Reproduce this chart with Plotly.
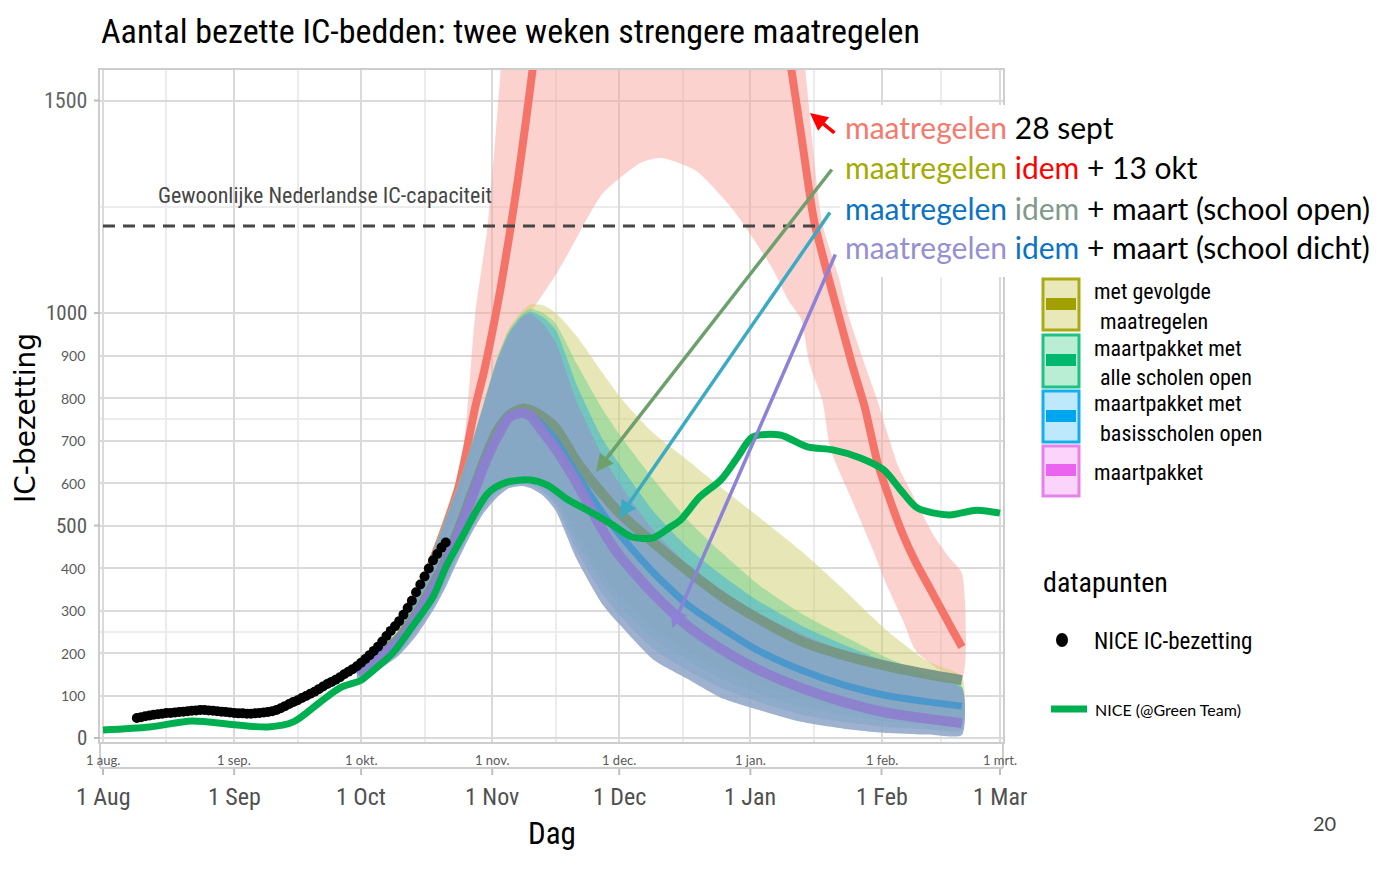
import pandas as pd
import plotly.graph_objects as go

BASE = pd.Timestamp("2020-08-01")

# ---------------- data ----------------
# NICE IC-bezetting, daily points (day 8 .. day 81 after 1 Aug 2020)
nice_start = 8
nice_vals = [47, 49, 51, 53, 55, 56, 57, 59, 59, 60,
             61, 62, 63, 64, 65, 66, 66, 65, 64, 63,
             62, 61, 60, 59, 58, 58, 57, 57, 58, 59,
             60, 61, 63, 66, 70, 75, 80, 85, 89, 94,
             99, 104, 109, 115, 121, 127, 132, 137, 143, 150,
             156, 162, 169, 177, 186, 195, 205, 215, 227, 240,
             252, 263, 275, 290, 306, 323, 343, 361, 380, 399,
             418, 433, 448, 460]
nice_days = list(range(nice_start, nice_start + len(nice_vals)))

# NICE (@Green Team) smoothed line
green_days = [0, 11, 21, 31, 39, 45, 51, 56, 61, 64, 68.5, 73, 78, 81, 84.5, 91,
              95.5, 101, 105, 110, 114.5, 120.5, 125, 130, 134, 136.5, 141, 146,
              150, 153.5, 160, 166.5, 172.5, 179, 184.5, 188.5, 192.5, 200, 206.5, 212]
green_vals = [19, 26, 40, 31, 26, 38, 82, 118, 136, 160, 200, 261, 332, 402, 466, 576,
              602, 607, 595, 560, 536, 501, 473, 471, 496, 513, 567, 607,
              661, 708, 713, 685, 678, 659, 631, 584, 541, 525, 536, 529]

# scenario: maatregelen 28 sept (red)
red_days = [70, 74, 78, 81, 84, 86, 88, 90, 92, 94, 96, 98, 100, 102, 105, 110, 120, 130,
            140, 150, 157, 162, 165, 168, 171, 174, 177, 180, 183, 186, 189, 192, 195,
            198, 201, 203]
red_med = [250, 320, 420, 500, 590, 680, 780, 860, 955, 1060, 1180, 1310, 1455, 1610,
           1880, 2350, 3000, 3200, 3000, 2500, 2000, 1620, 1420, 1220, 1100, 990, 880,
           780, 650, 560, 480, 415, 360, 305, 250, 214]
red_hi_days = [70, 75, 80, 84, 86, 88, 91, 94, 98, 105, 120, 140, 155, 162, 166, 170,
               174, 176, 180, 183, 188, 192, 196, 200, 203]
red_hi = [290, 380, 480, 600, 760, 1000, 1212, 1572, 2100, 3000, 4500, 4500, 3000, 2000,
          1572, 1212, 1080, 1000, 880, 795, 638, 560, 482, 425, 388]
red_lo_days = [70, 75, 80, 85, 90, 95, 100, 103, 107, 110, 118, 127, 132, 140, 149, 158,
               162, 165, 167, 170, 172, 177, 182, 185, 189, 192, 197, 203]
red_lo = [230, 300, 400, 520, 660, 820, 985, 1030, 1090, 1141, 1280, 1353, 1365, 1336,
          1242, 1108, 1030, 985, 880, 795, 678, 560, 442, 365, 278, 207, 165, 140]

# other scenarios (bands)
band_days = [60, 65, 70, 74, 78, 81, 84, 87, 90, 93, 96, 99, 101, 104, 107, 112, 118, 122,
             130, 138, 146, 155, 165, 175, 185, 195, 203]
yel_hi = [172, 205, 258, 335, 440, 520, 600, 690, 790, 890, 965, 1005, 1020, 1018, 1000, 945,
          860, 805, 718, 655, 590, 520, 440, 350, 255, 180, 145]
yel_lo = [150, 170, 208, 262, 325, 380, 445, 505, 556, 592, 612, 618, 614, 600, 572, 480,
          385, 338, 258, 205, 160, 125, 92, 70, 55, 46, 42]
grn_hi = [170, 203, 256, 333, 438, 518, 598, 688, 788, 888, 960, 998, 1010, 1000, 975, 880,
          775, 715, 610, 515, 438, 360, 293, 240, 190, 150, 122]
grn_lo = [150, 170, 205, 258, 320, 375, 440, 500, 550, 585, 604, 608, 604, 590, 560, 460,
          365, 315, 235, 185, 140, 105, 75, 55, 40, 33, 30]
blu_hi = [168, 201, 254, 331, 436, 516, 596, 686, 786, 885, 955, 993, 1003, 990, 960, 830,
          705, 645, 535, 450, 385, 322, 265, 220, 180, 146, 119]
blu_lo = [145, 165, 200, 250, 310, 365, 430, 490, 540, 575, 596, 600, 596, 580, 548, 440,
          340, 290, 210, 160, 118, 85, 55, 38, 26, 20, 18]
mag_hi = [166, 199, 252, 329, 434, 514, 594, 684, 784, 882, 950, 988, 998, 975, 930, 790,
          665, 600, 490, 410, 350, 292, 245, 205, 170, 140, 117]
mag_lo = [140, 160, 195, 240, 300, 355, 420, 480, 530, 565, 588, 593, 588, 570, 535, 420,
          315, 268, 185, 140, 95, 66, 38, 22, 12, 8, 7]
med_gevolgd = [160, 195, 235, 290, 360, 420, 490, 570, 650, 720, 760, 775, 772, 755, 730,
               650, 575, 530, 460, 395, 335, 280, 228, 195, 170, 150, 136]
med_basis = [158, 192, 232, 286, 355, 415, 485, 565, 645, 712, 752, 765, 760, 735, 700,
             620, 530, 480, 390, 315, 260, 205, 160, 125, 100, 85, 75]
med_maart = [155, 190, 228, 282, 350, 410, 480, 560, 640, 705, 755, 765, 758, 720, 680,
             600, 490, 430, 340, 265, 210, 160, 118, 85, 60, 45, 35]

capacity = 1205
capacity_days = [0, 169]

month_dates = ["2020-08-01", "2020-09-01", "2020-10-01", "2020-11-01", "2020-12-01",
               "2021-01-01", "2021-02-01", "2021-03-01"]
mid_dates = ["2020-08-16", "2020-09-16", "2020-10-16", "2020-11-16", "2020-12-16",
             "2021-01-16", "2021-02-15"]
month_small = ["1 aug.", "1 sep.", "1 okt.", "1 nov.", "1 dec.", "1 jan.", "1 feb.", "1 mrt."]
month_big = ["1 Aug", "1 Sep", "1 Oct", "1 Nov", "1 Dec", "1 Jan", "1 Feb", "1 Mar"]
y_small = [100, 200, 300, 400, 600, 700, 800, 900]
y_big = [0, 500, 1000]
y_top = [1500]
y_grid = [0, 100, 200, 300, 400, 500, 600, 700, 800, 900, 1000, 1500]
y_minor = [250, 750, 1250]


def day(d):
    return BASE + pd.to_timedelta(d, unit="D")


# ---------------- layout helpers (pixel -> paper) ----------------
L, R, T, B = 100, 1003, 70, 742


def px(x):
    return (x - L) / (R - L)


def py(y):
    return (B - y) / (B - T)


NARROW = "Noto Sans Condensed, Roboto Condensed, Liberation Sans Narrow, Liberation Sans"
SANS = "DejaVu Sans, Liberation Sans, sans-serif"
CAL = "Lato, Carlito, Calibri, sans-serif"

fig = go.Figure()


def band(d_hi, hi, d_lo, lo, color):
    xs = list(day(d_hi)) + list(day(d_lo))[::-1]
    ys = list(hi) + list(lo)[::-1]
    fig.add_trace(go.Scatter(x=xs, y=ys, mode="lines", fill="toself", fillcolor=color,
                             line=dict(width=0, shape="spline", smoothing=0.6),
                             hoverinfo="skip", showlegend=False))


# red scenario ribbon + line
band(red_hi_days, red_hi, red_lo_days, red_lo, "rgba(248,160,155,0.48)")
fig.add_trace(go.Scatter(x=day(red_days), y=red_med, mode="lines",
                         line=dict(color="rgb(244,116,106)", width=8, shape="spline", smoothing=0.6),
                         showlegend=False))

# scenario bands
band(band_days, yel_hi, band_days, yel_lo, "rgba(205,205,110,0.5)")
band(band_days, grn_hi, band_days, grn_lo, "rgba(110,210,140,0.5)")
band(band_days, blu_hi, band_days, blu_lo, "rgba(60,175,220,0.5)")
band(band_days, mag_hi, band_days, mag_lo, "rgba(140,162,198,0.84)")

for vals, col, w in [(med_gevolgd, "rgba(118,150,132,0.95)", 10),
                     (med_basis, "rgba(70,150,205,0.9)", 7),
                     (med_maart, "rgba(140,128,205,0.95)", 10)]:
    fig.add_trace(go.Scatter(x=day(band_days), y=vals, mode="lines",
                             line=dict(color=col, width=w, shape="spline", smoothing=0.6),
                             showlegend=False))

# capacity
fig.add_trace(go.Scatter(x=day(capacity_days), y=[capacity, capacity], mode="lines",
                         line=dict(color="rgb(70,70,70)", width=3, dash="12px,8px"),
                         showlegend=False))

# data points
fig.add_trace(go.Scatter(x=day(nice_days), y=nice_vals, mode="markers",
                         marker=dict(color="black", size=10), showlegend=False))
fig.add_trace(go.Scatter(x=day(green_days), y=green_vals, mode="lines",
                         line=dict(color="rgb(0,176,80)", width=7, shape="spline", smoothing=0.8),
                         showlegend=False))

# ---------------- axes ----------------
fig.update_xaxes(range=[day(-0.709), day(212.71)], showticklabels=False,
                 tickvals=month_dates, showgrid=True, gridcolor="rgb(218,218,218)", gridwidth=2,
                 minor=dict(tickvals=mid_dates, showgrid=True, gridcolor="rgb(236,236,236)",
                            gridwidth=1.5),
                 showline=True, mirror=True, linecolor="rgb(205,205,205)", linewidth=2,
                 zeroline=False, ticks="")
fig.update_yaxes(range=[-9.41, 1571.8], showticklabels=False, tickvals=y_grid,
                 showgrid=True, gridcolor="rgb(218,218,218)", gridwidth=2,
                 minor=dict(tickvals=y_minor, showgrid=True, gridcolor="rgb(236,236,236)",
                            gridwidth=1.5),
                 showline=True, mirror=True, linecolor="rgb(205,205,205)", linewidth=2,
                 zeroline=False, ticks="")

ann = []
shapes = []


def A(text, x, y, size, color="black", font=NARROW, xanchor="left", yanchor="middle", **kw):
    ann.append(dict(text=text, x=px(x), y=py(y), xref="paper", yref="paper", showarrow=False,
                    font=dict(family=font, size=size, color=color), xanchor=xanchor,
                    yanchor=yanchor, **kw))


# title
A("Aantal bezette IC-bedden: twee weken strengere maatregelen", 99, 31, 34)

# y tick labels
for v in y_small:
    ann.append(dict(text=str(v), x=px(87), y=v, xref="paper", yref="y", showarrow=False,
                    xanchor="right", yanchor="middle",
                    font=dict(family=CAL, size=14, color="rgb(90,90,90)")))
for v in y_big:
    ann.append(dict(text=str(v), x=px(89), y=v, xref="paper", yref="y", showarrow=False,
                    xanchor="right", yanchor="middle",
                    font=dict(family=NARROW, size=21, color="rgb(90,90,90)")))
    shapes.append(dict(type="line", xref="paper", yref="y", x0=px(94), x1=px(100), y0=v, y1=v,
                       line=dict(color="rgb(190,190,190)", width=2)))
for v in y_top:
    ann.append(dict(text=str(v), x=px(89), y=v, xref="paper", yref="y", showarrow=False,
                    xanchor="right", yanchor="middle",
                    font=dict(family=NARROW, size=22, color="rgb(100,100,100)")))
    shapes.append(dict(type="line", xref="paper", yref="y", x0=px(94), x1=px(100), y0=v, y1=v,
                       line=dict(color="rgb(190,190,190)", width=2)))

# x tick labels (two rows)
for d, s, b in zip(month_dates, month_small, month_big):
    ann.append(dict(text=s, x=d, y=py(760), xref="x", yref="paper", showarrow=False,
                    xanchor="center", yanchor="middle",
                    font=dict(family=CAL, size=13, color="rgb(90,90,90)")))
    ann.append(dict(text=b, x=d, y=py(797), xref="x", yref="paper", showarrow=False,
                    xanchor="center", yanchor="middle",
                    font=dict(family=NARROW, size=24, color="rgb(80,80,80)")))
    shapes.append(dict(type="line", xref="x", yref="paper", x0=d, x1=d, y0=py(768), y1=py(775),
                       line=dict(color="rgb(190,190,190)", width=2)))

# lower frame
for (x0, y0, x1, y1) in [(100, 742, 100, 768), (1003, 742, 1003, 768), (100, 768, 1003, 768)]:
    shapes.append(dict(type="line", xref="paper", yref="paper", x0=px(x0), y0=py(y0),
                       x1=px(x1), y1=py(y1), line=dict(color="rgb(205,205,205)", width=2)))

# axis titles
A("Dag", 552, 833, 31, xanchor="center")
A("IC-bezetting", 26, 418, 28, font=SANS, xanchor="center", textangle=-90)
A("Gewoonlijke Nederlandse IC-capaciteit", 325, 195, 22, color="rgb(70,70,70)",
  xanchor="center")
A("20", 1324, 823, 20, color="rgb(70,70,70)", font=CAL, xanchor="center")

# white box for scenario text
shapes.append(dict(type="rect", xref="paper", yref="paper", x0=px(840), x1=px(1395),
                   y0=py(277), y1=py(105), fillcolor="white", line=dict(width=0),
                   layer="above"))

lines = [
    '<span style="color:#f47a6e">maatregelen</span> 28 sept',
    '<span style="color:#a3aa00">maatregelen</span> <span style="color:#ff0000">idem</span> + 13 okt',
    '<span style="color:#0b72c4">maatregelen</span> <span style="color:#7f9a8c">idem</span> + maart (school open)',
    '<span style="color:#9590d2">maatregelen</span> <span style="color:#0b72c4">idem</span> + maart (school dicht)',
]
for t, yy in zip(lines, [127, 167, 208, 247]):
    A(t, 843, yy, 30, font=CAL)

# arrows
for (hx, hy, tx, ty, col) in [(810, 113, 836, 134, "rgb(255,0,0)"),
                              (596, 472, 833, 168, "rgb(110,160,110)"),
                              (619, 518, 831, 211, "rgb(60,170,195)"),
                              (672, 628, 836, 253, "rgb(140,130,215)")]:
    ann.append(dict(x=px(hx), y=py(hy), xref="paper", yref="paper", ax=tx - hx, ay=ty - hy,
                    axref="pixel", ayref="pixel", showarrow=True, arrowhead=2, arrowsize=1,
                    arrowwidth=3.5, arrowcolor=col, text=""))

# legend boxes
legend_boxes = [
    (279, 330, "rgb(232,232,185)", "rgb(170,170,20)", "rgb(160,160,0)", 298, 310),
    (335, 387, "rgb(185,238,212)", "rgb(30,195,130)", "rgb(0,185,110)", 354, 366),
    (391, 442, "rgb(190,232,252)", "rgb(20,175,235)", "rgb(0,165,240)", 410, 422),
    (446, 496, "rgb(250,212,250)", "rgb(230,130,235)", "rgb(235,100,240)", 464, 476),
]
for (y0, y1, fill, border, bar, b0, b1) in legend_boxes:
    shapes.append(dict(type="rect", xref="paper", yref="paper", x0=px(1043), x1=px(1079),
                       y0=py(y1), y1=py(y0), fillcolor=fill, line=dict(color=border, width=3)))
    shapes.append(dict(type="rect", xref="paper", yref="paper", x0=px(1046), x1=px(1076),
                       y0=py(b1), y1=py(b0), fillcolor=bar, line=dict(width=0)))

for t, xx, yy in [("met gevolgde", 1092, 291), ("maatregelen", 1098, 321),
                  ("maartpakket met", 1092, 348), ("alle scholen open", 1098, 377),
                  ("maartpakket met", 1092, 403), ("basisscholen open", 1098, 433),
                  ("maartpakket", 1092, 472)]:
    A(t, xx, yy, 22)

A("datapunten", 1041, 582, 28)
shapes.append(dict(type="circle", xref="paper", yref="paper", x0=px(1056), x1=px(1068),
                   y0=py(647), y1=py(633), fillcolor="black", line=dict(width=0)))
A("NICE IC-bezetting", 1092, 641, 23)
shapes.append(dict(type="line", xref="paper", yref="paper", x0=px(1051), x1=px(1087),
                   y0=py(709), y1=py(709), line=dict(color="rgb(0,176,80)", width=7)))
A("NICE (@Green Team)", 1093, 709, 16, font=CAL)

fig.update_layout(width=1400, height=877, margin=dict(l=L, r=1400 - R, t=T, b=877 - B),
                  plot_bgcolor="white", paper_bgcolor="white", showlegend=False,
                  annotations=ann, shapes=shapes)

fig.write_html("out.html")
